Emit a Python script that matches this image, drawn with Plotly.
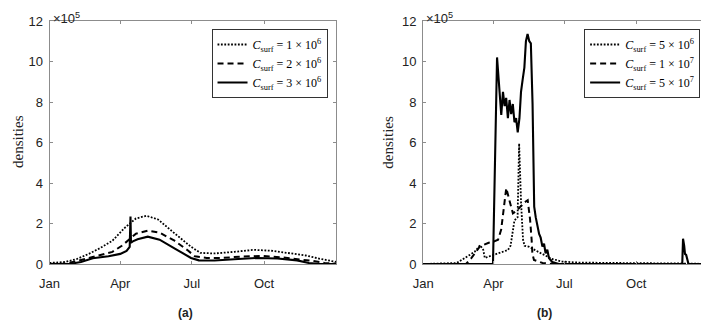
import plotly.graph_objects as go

# ---------------- data (values in units of 1e5) ----------------
# Panel (a)
a1_days = [0, 20, 35, 50, 65, 80, 96, 110, 123, 138, 158, 180, 192, 210, 235, 260, 284, 305, 326, 345, 365]
a1_vals = [0.05, 0.1, 0.25, 0.5, 0.8, 1.15, 1.8, 2.25, 2.38, 2.2, 1.55, 0.85, 0.55, 0.52, 0.6, 0.7, 0.65, 0.55, 0.42, 0.25, 0.1]

a2_days = [0, 20, 35, 50, 65, 80, 92, 100, 104, 110, 125, 140, 159, 175, 185, 200, 220, 245, 270, 295, 315, 335, 350, 365]
a2_vals = [0.0, 0.02, 0.15, 0.3, 0.45, 0.6, 0.9, 1.2, 1.3, 1.5, 1.65, 1.55, 1.15, 0.7, 0.38, 0.3, 0.3, 0.37, 0.4, 0.33, 0.25, 0.15, 0.05, 0.02]

a3_days = [0, 25, 40, 55, 75, 90, 98, 102, 103, 103.6, 106, 112, 125, 140, 160, 180, 190, 210, 240, 265, 290, 315, 330, 345, 365]
a3_vals = [0.0, 0.0, 0.1, 0.28, 0.38, 0.5, 0.65, 0.85, 2.35, 1.05, 1.12, 1.22, 1.35, 1.2, 0.75, 0.3, 0.18, 0.17, 0.25, 0.3, 0.27, 0.18, 0.05, 0.0, 0.0]

# Panel (b)
b1_days = [0, 43, 56, 66, 73, 77, 79, 88, 98, 108.6, 112, 115, 117, 121, 123, 125.5, 128, 130, 136, 144, 155, 165, 178, 199, 250, 300, 330, 345, 365]
b1_vals = [0.0, 0.05, 0.36, 0.6, 0.93, 0.7, 0.3, 0.41, 0.55, 0.69, 0.9, 1.8, 2.15, 2.3, 5.95, 3.0, 1.2, 0.9, 0.85, 0.67, 0.46, 0.25, 0.12, 0.07, 0.05, 0.05, 0.04, 0.02, 0.0]

b2_days = [0, 55, 62, 68, 73, 78, 84, 90, 96, 100, 104, 106.5, 110.5, 115, 119, 124, 130, 134, 137, 139, 140, 142, 153, 165, 365]
b2_vals = [0.0, 0.0, 0.3, 0.6, 0.88, 0.95, 1.05, 1.1, 1.2, 1.7, 3.1, 3.75, 3.15, 2.5, 2.6, 2.8, 3.05, 3.15, 2.2, 1.2, 0.5, 0.2, 0.05, 0.0, 0.0]

b3_days = [0, 89.5, 94.7, 98.1, 100.1, 102.3, 104.4, 106.4, 108.6, 110.7, 112.8, 114.9, 117, 119.1, 121.2, 123.4, 125.4,
           127.5, 129.7, 131.7, 133.8, 136, 138, 140.2, 142.3, 144.3, 146.5, 148.6, 150.6, 152.8, 154.9, 156.9,
           159.1, 161.2, 165.4, 173.9, 332, 333, 334.5, 335.5, 337, 340, 365]
b3_vals = [0.0, 0.0, 10.2, 8.5, 7.36, 8.5, 7.8, 8.2, 7.2, 8.1, 7.4, 7.9, 7.0, 7.2, 6.5, 7.2, 8.5,
           9.1, 9.7, 11.0, 11.36, 11.0, 10.9, 7.9, 2.83, 2.3, 1.8, 1.48, 1.3, 0.86, 1.0, 0.53,
           0.7, 0.3, 0.1, 0.0, 0.0, 1.25, 0.9, 0.5, 0.45, 0.0, 0.0]

a_names = ["<i>C</i><sub>surf</sub> = 1 × 10<sup>6</sup>",
           "<i>C</i><sub>surf</sub> = 2 × 10<sup>6</sup>",
           "<i>C</i><sub>surf</sub> = 3 × 10<sup>6</sup>"]
b_names = ["<i>C</i><sub>surf</sub> = 5 × 10<sup>6</sup>",
           "<i>C</i><sub>surf</sub> = 1 × 10<sup>7</sup>",
           "<i>C</i><sub>surf</sub> = 5 × 10<sup>7</sup>"]

month_ticks = [0, 90, 181, 273]
month_labels = ["Jan", "Apr", "Jul", "Oct"]
y_ticks = [0, 2, 4, 6, 8, 10, 12]

# ---------------- figure ----------------
# The page body has an 8px margin, so the figure is drawn 8px in from the window corner.
OFF = 8
W, H = 709 - OFF, 323 - OFF
def px(x):
    return x - OFF

styles = [dict(dash="1.8px,1.6px", width=1.8), dict(dash="6px,4px", width=2), dict(dash="solid", width=2.1)]

fig = go.Figure()
for d, v, n, s in zip([a1_days, a2_days, a3_days], [a1_vals, a2_vals, a3_vals], a_names, styles):
    fig.add_trace(go.Scatter(x=d, y=v, mode="lines", name=n, line=dict(color="black", **s),
                             xaxis="x", yaxis="y", legend="legend"))
for d, v, n, s in zip([b1_days, b2_days, b3_days], [b1_vals, b2_vals, b3_vals], b_names, styles):
    fig.add_trace(go.Scatter(x=d, y=v, mode="lines", name=n, line=dict(color="black", **s),
                             xaxis="x2", yaxis="y2", legend="legend2"))

top, bottom = px(21), px(264)
ph = bottom - top
axcol = "#8c8c8c"
tickfont = dict(family="Liberation Sans, Arial, sans-serif", size=13, color="#222")

def xaxis(dom, anchor):
    return dict(domain=dom, anchor=anchor, range=[0, 365], tickvals=month_ticks, ticktext=month_labels,
                ticks="inside", ticklen=3, tickcolor=axcol, showline=True, linecolor=axcol, linewidth=1,
                mirror="ticks", showgrid=False, zeroline=False, tickfont=tickfont, ticklabelstandoff=7)

def yaxis(anchor):
    return dict(domain=[0, 1], anchor=anchor, range=[0, 12], tickvals=y_ticks,
                ticks="inside", ticklen=3, tickcolor=axcol, showline=True, linecolor=axcol, linewidth=1,
                mirror="ticks", showgrid=False, zeroline=False, tickfont=tickfont, ticklabelstandoff=3)

legend_common = dict(bgcolor="white", bordercolor="#333", borderwidth=1,
                     font=dict(family="Liberation Serif, Times New Roman, serif", size=12, color="black"),
                     xanchor="right", yanchor="top", tracegroupgap=0, itemwidth=30)

fig.update_layout(
    width=W, height=H,
    margin=dict(l=0, r=0, t=top, b=H - bottom),
    paper_bgcolor="white", plot_bgcolor="white",
    xaxis=xaxis([px(40) / W, px(331) / W], "y"),
    yaxis=yaxis("x"),
    xaxis2=xaxis([px(419) / W, px(708) / W], "y2"),
    yaxis2=yaxis("x2"),
    legend=dict(x=px(322) / W, y=(bottom - px(29)) / ph, **legend_common),
    legend2=dict(x=px(700) / W, y=(bottom - px(29)) / ph, **legend_common),
    showlegend=True,
)

annots = []
for xl, xd, lab, xlab in [(41, 8, "(a)", 178), (420, 383, "(b)", 542)]:
    annots.append(dict(text="×10<sup>5</sup>", x=px(xl) / W, y=bottom / ph, xref="paper", yref="paper",
                       xanchor="left", yanchor="top", showarrow=False,
                       font=dict(family="Liberation Sans, Arial, sans-serif", size=13, color="#222")))
    annots.append(dict(text="densities", x=px(xd) / W, y=(bottom - px(142)) / ph, xref="paper", yref="paper",
                       xanchor="center", yanchor="middle", textangle=-90, showarrow=False,
                       font=dict(family="Liberation Serif, Times New Roman, serif", size=15, color="#222")))
    annots.append(dict(text="<b>" + lab + "</b>", x=px(xlab) / W, y=(bottom - px(313)) / ph, xref="paper", yref="paper",
                       xanchor="center", yanchor="middle", showarrow=False,
                       font=dict(family="Liberation Sans, Arial, sans-serif", size=12, color="#222")))
fig.update_layout(annotations=annots)

fig.write_html("out.html")
